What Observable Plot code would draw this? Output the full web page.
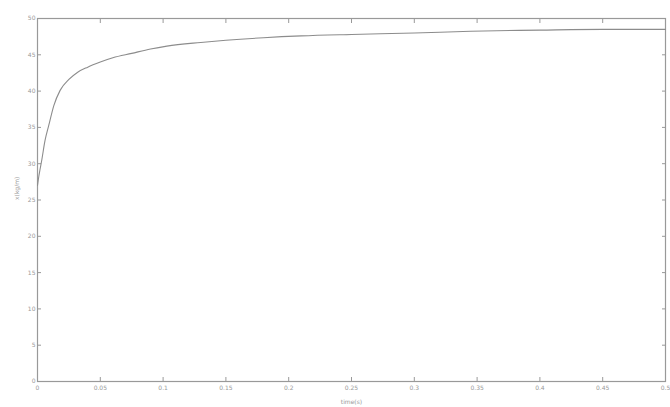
<!DOCTYPE html>
<html>
<head>
<meta charset="utf-8">
<script src="https://cdn.jsdelivr.net/npm/d3@7"></script>
<script src="https://cdn.jsdelivr.net/npm/@observablehq/plot@0.6"></script>
<style>
  html, body { margin: 0; padding: 0; background: #fff; }
  #chart svg { display: block; }
</style>
</head>
<body>
<div id="chart"></div>
<script>
const time = [0, 0.001, 0.002, 0.0032, 0.006, 0.009, 0.013, 0.018, 0.025, 0.032, 0.04, 0.05, 0.06, 0.075, 0.09, 0.103, 0.13, 0.15, 0.18, 0.21, 0.25, 0.3, 0.345, 0.4, 0.45, 0.5];
const conc = [27, 28.2, 29.2, 30.3, 33.2, 35.3, 38.0, 40.1, 41.6, 42.6, 43.3, 44.0, 44.6, 45.2, 45.8, 46.2, 46.7, 47.0, 47.35, 47.6, 47.8, 48.0, 48.25, 48.4, 48.5, 48.5];
const xTicks = [0, 0.05, 0.1, 0.15, 0.2, 0.25, 0.3, 0.35, 0.4, 0.45, 0.5];
const xTickLabels = ["0", "0.05", "0.1", "0.15", "0.2", "0.25", "0.3", "0.35", "0.4", "0.45", "0.5"];
const yTicks = [0, 5, 10, 15, 20, 25, 30, 35, 40, 45, 50];
const xLabel = "time(s)";
const yLabel = "x(kg/m)";

const data = time.map((t, i) => ({t, v: conc[i]}));
const axisColor = "#999";
const textColor = "#999";

const chart = Plot.plot({
  width: 670,
  height: 407,
  marginLeft: 37,
  marginRight: 5,
  marginTop: 18,
  marginBottom: 26,
  style: {fontFamily: "DejaVu Sans", fontSize: "6px", color: textColor, background: "#fff"},
  x: {domain: [0, 0.5]},
  y: {domain: [0, 50]},
  marks: [
    Plot.frame({stroke: axisColor, strokeWidth: 1.2}),
    Plot.axisX({anchor: "bottom", ticks: xTicks, tickFormat: (d, i) => xTickLabels[i], tickSize: -4, tickPadding: 8, stroke: axisColor, fill: textColor, label: null}),
    Plot.axisX({anchor: "top", ticks: xTicks, tickFormat: () => "", tickSize: -4, stroke: axisColor, label: null}),
    Plot.axisY({anchor: "left", ticks: yTicks, tickSize: -4, tickPadding: 6, stroke: axisColor, fill: textColor, label: null}),
    Plot.axisY({anchor: "right", ticks: yTicks, tickFormat: () => "", tickSize: -4, stroke: axisColor, label: null}),
    Plot.line(data, {x: "t", y: "v", stroke: "#8c8c8c", strokeWidth: 1.1, curve: "monotone-x"}),
    Plot.text([xLabel], {frameAnchor: "bottom", dy: 22, text: d => d, fill: textColor, fontSize: 6}),
    Plot.text([yLabel], {frameAnchor: "left", dx: -20, rotate: -90, text: d => d, fill: textColor, fontSize: 6})
  ]
});
document.getElementById("chart").appendChild(chart);
</script>
</body>
</html>
